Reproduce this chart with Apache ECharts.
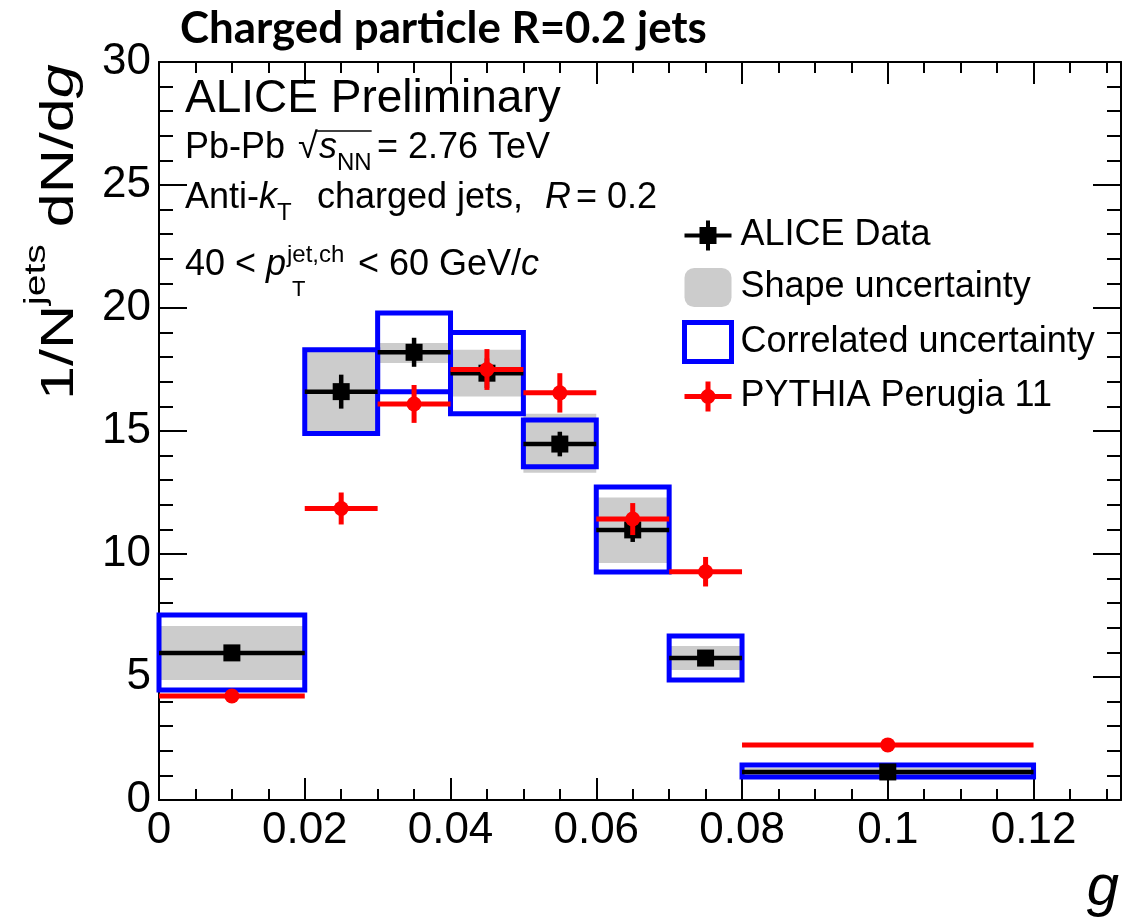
<!DOCTYPE html>
<html><head><meta charset="utf-8">
<script src="https://cdn.jsdelivr.net/npm/echarts@6/dist/echarts.min.js"></script>
<style>html,body{margin:0;padding:0;background:#fff}#c{width:1122px;height:923px}</style>
</head><body><div id="c"></div>
<script>
// ---------- data ----------
const binLo      = [0,    0.02, 0.03, 0.04, 0.05, 0.06, 0.07, 0.08];
const binHi      = [0.02, 0.03, 0.04, 0.05, 0.06, 0.07, 0.08, 0.12];
const aliceVal   = [5.98, 16.6, 18.2, 17.35, 14.47, 10.98, 5.77, 1.14];
const aliceStat  = [0.25, 0.69, 0.59, 0.6, 0.5, 0.49, 0.25, 0.25];
const shapeLo    = [4.88, 14.95, 17.76, 16.4, 13.3, 9.63, 5.28, 1.0];
const shapeHi    = [7.07, 18.25, 18.58, 18.3, 15.7, 12.3, 6.26, 1.3];
const corrLo     = [4.47, 14.9, 16.6, 15.7, 13.55, 9.27, 4.88, 0.93];
const corrHi     = [7.52, 18.3, 19.8, 19.0, 15.45, 12.72, 6.67, 1.42];
const pythiaVal  = [4.23, 11.85, 16.1, 17.5, 16.55, 11.42, 9.28, 2.24];
const pythiaStat = [0.15, 0.65, 0.77, 0.83, 0.8, 0.65, 0.6, 0.12];
const seriesNames = ['ALICE Data', 'Shape uncertainty', 'Correlated uncertainty', 'PYTHIA Perugia 11'];
const xMin = 0, xMax = 0.132, yMin = 0, yMax = 30;

// ---------- text helpers ----------
const FONT = "'Liberation Sans', Arial, Helvetica, sans-serif";
const mctx = document.createElement('canvas').getContext('2d');
function fontStr(fs, o) { return (o.it ? 'italic ' : '') + (o.bold ? 'bold ' : '') + fs + 'px ' + (o.fam || FONT); }
function measure(t, fs, o) { mctx.font = fontStr(fs, o); mctx.textBaseline = 'alphabetic'; return mctx.measureText(t).width; }
function midOffset(fs, o) { mctx.font = fontStr(fs, o); mctx.textBaseline = 'middle'; return mctx.measureText('H').actualBoundingBoxDescent; }
function run(x0, base, parts) {
  const out = []; let x = x0;
  for (const p of parts) {
    if (p.ax != null) x = p.ax;
    const o = {it: p.it, bold: p.bold, fam: p.fam};
    const fs = p.fs;
    const by = base + (p.dy || 0);
    out.push({type: 'text', x: x, y: by - midOffset(fs, o), z: 100,
      style: {text: p.t, font: fontStr(fs, o), fill: '#000', align: 'left', verticalAlign: 'middle', textAlign: 'left', textVerticalAlign: 'middle'}});
    p._x0 = x;
    x += measure(p.t, fs, o) + (p.gap || 0);
    p._x1 = x;
  }
  return out;
}

const graphics = [];
// title
const TITLE = 'Charged particle R=0.2 jets';
const titleFam = "Lato, 'Open Sans', sans-serif";
const titleFs = 36 * 527 / measure(TITLE, 36, {bold: true, fam: titleFam});
graphics.push(...run(180, 43, [{t: TITLE, fs: titleFs, bold: true, fam: titleFam}]));
// annotations
graphics.push(...run(185, 112, [{t: 'ALICE Preliminary', fs: 46}]));
const l2 = [{t: 'Pb-Pb', fs: 36}, {t: '\u221A', fs: 36, ax: 298}, {t: 's', fs: 36, it: true, ax: 319}, {t: 'NN', fs: 24, dy: 12}, {t: '= 2.76 TeV', fs: 36, ax: 377}];
graphics.push(...run(185, 158, l2));
graphics.push({type: 'line', z: 100, shape: {x1: l2[1]._x1 - 1, y1: 131, x2: l2[3]._x1, y2: 131}, style: {stroke: '#000', lineWidth: 1.5}});
graphics.push(...run(185, 208, [{t: 'Anti-', fs: 36}, {t: 'k', fs: 36, it: true}, {t: 'T', fs: 24, dy: 12, ax: 277}, {t: 'charged jets,', fs: 36, ax: 317}, {t: 'R', fs: 36, it: true, ax: 545}, {t: '= 0.2', fs: 36, ax: 576}]));
graphics.push(...run(185, 275, [{t: '40 <', fs: 36}, {t: 'p', fs: 36, it: true, ax: 266}, {t: 'jet,ch', fs: 24, dy: -13, ax: 287}, {t: 'T', fs: 22, dy: 21, ax: 292}, {t: '< 60 GeV/', fs: 36, ax: 358}, {t: 'c', fs: 36, it: true}]));
// x axis title
graphics.push(...run(1119 - measure('g', 58, {it: true}), 905, [{t: 'g', fs: 58, it: true}]));
// y axis title (rotated, stretched along text)
graphics.push({type: 'group', x: 73, y: 400, rotation: Math.PI / 2, scaleX: 1.3, scaleY: 1, z: 100,
  children: run(0, 0, [{t: '1/N', fs: 47}, {t: 'jets', fs: 30, dy: -28}, {t: ' dN/d', fs: 47}, {t: 'g', fs: 47, it: true}])});

// ---------- series ----------
const binData = binLo.map((l, i) => [l, binHi[i]]);
function boxItem(lo, hi) { return binLo.map((l, i) => [l, binHi[i], lo[i], hi[i]]); }

const shapeSeries = {
  type: 'custom', name: seriesNames[1], xAxisIndex: 0, yAxisIndex: 0,
  encode: {x: [0, 1], y: [2, 3]}, data: boxItem(shapeLo, shapeHi),
  renderItem: (p, api) => {
    const a = api.coord([api.value(0), api.value(3)]), b = api.coord([api.value(1), api.value(2)]);
    return {type: 'rect', shape: {x: a[0], y: a[1], width: b[0] - a[0], height: b[1] - a[1]}, style: {fill: '#cccccc'}};
  }
};
const corrSeries = {
  type: 'custom', name: seriesNames[2], xAxisIndex: 0, yAxisIndex: 0,
  encode: {x: [0, 1], y: [2, 3]}, data: boxItem(corrLo, corrHi),
  renderItem: (p, api) => {
    const a = api.coord([api.value(0), api.value(3)]), b = api.coord([api.value(1), api.value(2)]);
    return {type: 'rect', shape: {x: a[0], y: a[1], width: b[0] - a[0], height: b[1] - a[1]}, style: {fill: 'none', stroke: '#0000ff', lineWidth: 5}};
  }
};
function pointSeries(name, vals, errs, color, lw, marker) {
  return {
    type: 'custom', name: name, xAxisIndex: 0, yAxisIndex: 0,
    encode: {x: [0, 1], y: 2}, data: binLo.map((l, i) => [l, binHi[i], vals[i], errs[i]]),
    renderItem: (p, api) => {
      const lo = api.value(0), hi = api.value(1), v = api.value(2), e = api.value(3);
      const xc = (lo + hi) / 2;
      const pl = api.coord([lo, v]), ph = api.coord([hi, v]);
      const pu = api.coord([xc, v + e]), pd = api.coord([xc, v - e]);
      const c = api.coord([xc, v]);
      const st = {stroke: color, lineWidth: lw};
      const kids = [
        {type: 'line', shape: {x1: pl[0], y1: pl[1], x2: ph[0], y2: ph[1]}, style: st},
        {type: 'line', shape: {x1: pu[0], y1: pu[1], x2: pd[0], y2: pd[1]}, style: st}
      ];
      if (marker === 'square') kids.push({type: 'rect', shape: {x: c[0] - 8.5, y: c[1] - 8.5, width: 17, height: 17}, style: {fill: color}});
      else kids.push({type: 'circle', shape: {cx: c[0], cy: c[1], r: 7.5}, style: {fill: color}});
      return {type: 'group', children: kids};
    }
  };
}
const aliceSeries = pointSeries(seriesNames[0], aliceVal, aliceStat, '#000000', 4.5, 'square');
const pythiaSeries = pointSeries(seriesNames[3], pythiaVal, pythiaStat, '#ff0000', 5, 'circle');

// ---------- axes ----------
const tickStyle = {color: '#000', width: 2};
function xAx(pos, interval, len, main, showLine) {
  return {type: 'value', position: pos, min: xMin, max: xMax, interval: interval,
    axisLine: {show: showLine, onZero: false, lineStyle: {color: '#000', width: 2}},
    axisTick: {show: true, inside: true, length: len, lineStyle: tickStyle},
    axisLabel: main ? {show: true, fontSize: 44, fontFamily: FONT, color: '#000', margin: 9, showMaxLabel: false,
      formatter: v => (v === 0 ? '0' : String(+v.toFixed(3)))} : {show: false},
    splitLine: {show: false}};
}
function yAx(pos, interval, len, main, showLine) {
  return {type: 'value', position: pos, min: yMin, max: yMax, interval: interval,
    axisLine: {show: showLine, onZero: false, lineStyle: {color: '#000', width: 2}},
    axisTick: {show: true, inside: true, length: len, lineStyle: tickStyle},
    axisLabel: main ? {show: true, fontSize: 44, fontFamily: FONT, color: '#000', margin: 8} : {show: false},
    splitLine: {show: false}};
}

const aliceIcon = 'path://M0,0L0.01,0M47,39L46.99,39M0,17.5h47v4h-47zM21.5,4.5h4v30h-4zM15,11h17v17h-17z';
const pythiaIcon = 'path://M0,0L0.01,0M47,39L46.99,39M0,17h47v5h-47zM21,4.5h5v30h-5zM31,19.5A7.5,7.5,0,1,1,16,19.5A7.5,7.5,0,1,1,31,19.5z';

const option = {
  animation: false,
  backgroundColor: '#ffffff',
  grid: {left: 159, top: 62, right: 1, bottom: 123, containLabel: false},
  xAxis: [xAx('bottom', 0.02, 22, true, true), xAx('bottom', 0.005, 11, false, false),
          xAx('top', 0.02, 22, false, true), xAx('top', 0.005, 11, false, false)],
  yAxis: [yAx('left', 5, 28, true, true), yAx('left', 1, 14, false, false),
          yAx('right', 5, 28, false, true), yAx('right', 1, 14, false, false)],
  legend: {
    orient: 'vertical', left: 682, top: 216, itemWidth: 47, itemHeight: 39, itemGap: 13,
    selectedMode: false, padding: 0,
    textStyle: {fontSize: 36, fontFamily: FONT, color: '#000', padding: [0, 0, 0, 4]},
    data: [
      {name: seriesNames[0], icon: aliceIcon, itemStyle: {color: '#000', borderWidth: 0}},
      {name: seriesNames[1], icon: 'roundRect', itemStyle: {color: '#cccccc', borderWidth: 0}},
      {name: seriesNames[2], icon: 'rect', itemStyle: {color: '#ffffff', borderColor: '#0000ff', borderWidth: 5}},
      {name: seriesNames[3], icon: pythiaIcon, itemStyle: {color: '#ff0000', borderWidth: 0}}
    ]
  },
  graphic: graphics,
  series: [shapeSeries, corrSeries, aliceSeries, pythiaSeries]
};
const chart = echarts.init(document.getElementById('c'), null, {renderer: 'canvas'});
chart.setOption(option);
</script></body></html>
